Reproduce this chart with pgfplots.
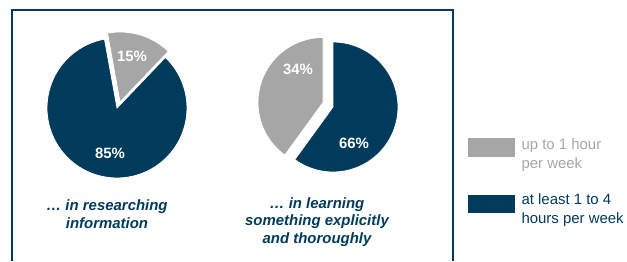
\documentclass[border=0pt]{standalone}
\usepackage{pgfplots}
\pgfplotsset{compat=1.18}
\usepackage{fontspec}
\setmainfont{Liberation Sans}
\definecolor{navy}{RGB}{0,59,92}
\definecolor{pgray}{RGB}{166,166,166}
\begin{document}
\begin{tikzpicture}
\def\pa{15}\def\pb{85}% pie 1 (labels and shares)
\def\pc{34}\def\pd{66}% pie 2 (labels)
\def\pdshare{60}% pie 2 dark slice as drawn in the source picture
\begin{axis}[x=1bp,y=1bp,xmin=0,xmax=627,ymin=0,ymax=261,hide axis,clip=false,
  scale only axis,samples=90]
\path (axis cs:0,0) rectangle (axis cs:627,261);
% frame
\draw[navy,line width=2bp] (axis cs:12,0) -- (axis cs:12,251) -- (axis cs:453,251) -- (axis cs:453,0);
% pie 1 (start angle 100.3)
\pgfmathsetmacro{\sA}{100.3}
\pgfmathsetmacro{\aA}{\sA-3.6*\pa}
\addplot[fill=navy,draw=white,line width=0.8bp,domain=\sA:\aA+360,variable=\t]
  ({117+70*cos(\t)},{153+70*sin(\t)}) -- (axis cs:117,153) -- cycle;
\addplot[fill=pgray,draw=white,line width=0.8bp,domain=\aA:\sA,variable=\t]
  ({120+70*cos(\t)},{159+70*sin(\t)}) -- (axis cs:120,159) -- cycle;
% pie 2
\pgfmathsetmacro{\aB}{90-3.6*\pdshare}
\addplot[fill=navy,draw=white,line width=0.8bp,domain=\aB:90,variable=\t]
  ({333+65*cos(\t)},{154+65*sin(\t)}) -- (axis cs:333,154) -- cycle;
\addplot[fill=pgray,draw=white,line width=0.8bp,domain=90:\aB+360,variable=\t]
  ({323+65*cos(\t)},{158.5+65*sin(\t)}) -- (axis cs:323,158.5) -- cycle;
% slice labels
\node[white,font=\fontsize{15}{17}\selectfont\bfseries] at (axis cs:132,205) {\pa\%};
\node[white,font=\fontsize{15}{17}\selectfont\bfseries] at (axis cs:110,108) {\pb\%};
\node[white,font=\fontsize{15}{17}\selectfont\bfseries] at (axis cs:298,192) {\pc\%};
\node[white,font=\fontsize{15}{17}\selectfont\bfseries] at (axis cs:354,118) {\pd\%};
% captions
\node[navy,align=center,font=\fontsize{15}{17.5}\selectfont\bfseries\itshape] at (axis cs:107,47) {… in researching\\information};
\node[navy,align=center,font=\fontsize{15}{17.5}\selectfont\bfseries\itshape] at (axis cs:317,39) {… in learning\\something explicitly\\and thoroughly};
% legend
\fill[pgray] (axis cs:468,104) rectangle (axis cs:515,123);
\fill[navy] (axis cs:468,48) rectangle (axis cs:515,66);
\node[pgray,anchor=west,align=left,font=\fontsize{15}{19}\selectfont] at (axis cs:518,105.5) {up to 1 hour\\per week};
\node[navy,anchor=west,align=left,font=\fontsize{15}{19}\selectfont] at (axis cs:518,50.5) {at least 1 to 4\\hours per week};
\end{axis}
\end{tikzpicture}
\end{document}
